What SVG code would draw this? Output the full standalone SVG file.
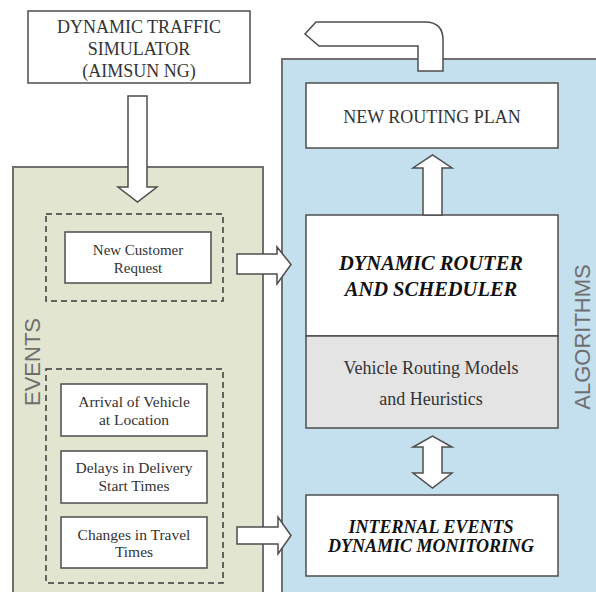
<svg xmlns="http://www.w3.org/2000/svg" width="596" height="592" viewBox="0 0 596 592">
<style>
.box{fill:#fff;stroke:#4d4d4d;stroke-width:1.5}
.arrow{fill:#fff;stroke:#4d4d4d;stroke-width:1.5;stroke-linejoin:miter}
.dash{fill:none;stroke:#3a3a3a;stroke-width:1.5;stroke-dasharray:6 4}
.t{fill:#333;text-anchor:middle}
.bi{fill:#111;text-anchor:middle;font-weight:bold;font-style:italic}
.lab{fill:#6e6e6e;text-anchor:middle;font-size:22px}
</style>
<rect width="596" height="592" fill="#fff"/>
<g id="events">
<rect x="13" y="167" width="250" height="440" fill="#e2e6d1" stroke="#6f6f6f" stroke-width="2"/>
<text class="lab" font-family="Liberation Sans, Arial, sans-serif" transform="translate(40,362) rotate(-90)">EVENTS</text>
</g>
<g id="algorithms">
<rect x="282" y="59" width="330" height="560" fill="#c4dfee" stroke="#6f6f6f" stroke-width="2"/>
<text class="lab" font-family="Liberation Sans, Arial, sans-serif" transform="translate(590,337) rotate(-90)">ALGORITHMS</text>
</g>
<g font-family="Liberation Serif, Times New Roman, Times, serif">
<g id="simulator">
<rect class="box" x="28" y="11" width="222" height="72"/>
<text class="t" font-size="18" x="139" y="33">DYNAMIC TRAFFIC</text>
<text class="t" font-size="18" x="139" y="55">SIMULATOR</text>
<text class="t" font-size="18" x="139" y="77">(AIMSUN NG)</text>
</g>
<g id="group-new-request">
<rect class="dash" x="46" y="214" width="177" height="87"/>
</g>
<g id="new-customer-request">
<rect class="box" x="65" y="232" width="146" height="51"/>
<text class="t" font-size="15" x="138" y="255">New Customer</text>
<text class="t" font-size="15" x="138" y="273">Request</text>
</g>
<g id="group-internal">
<rect class="dash" x="46" y="369" width="177" height="214"/>
</g>
<g id="arrival">
<rect class="box" x="61" y="384" width="146" height="52"/>
<text class="t" font-size="15.5" x="134" y="407">Arrival of Vehicle</text>
<text class="t" font-size="15.5" x="134" y="425">at Location</text>
</g>
<g id="delays">
<rect class="box" x="61" y="451" width="146" height="52"/>
<text class="t" font-size="15.5" x="134" y="473">Delays in Delivery</text>
<text class="t" font-size="15.5" x="134" y="491">Start Times</text>
</g>
<g id="changes">
<rect class="box" x="61" y="517" width="146" height="51"/>
<text class="t" font-size="15.5" x="134" y="540">Changes in Travel</text>
<text class="t" font-size="15.5" x="134" y="557">Times</text>
</g>
<g id="new-routing-plan">
<rect class="box" x="306" y="83" width="252" height="65"/>
<text class="t" font-size="18" x="432" y="123">NEW ROUTING PLAN</text>
</g>
<g id="router">
<rect class="box" x="306" y="215" width="252" height="121"/>
<rect x="306" y="336" width="252" height="92" fill="#e4e4e4" stroke="#4d4d4d" stroke-width="1.5"/>
<text class="bi" font-size="20.5" x="431" y="270">DYNAMIC ROUTER</text>
<text class="bi" font-size="20.5" x="431" y="296">AND SCHEDULER</text>
<text class="t" font-size="18" x="431" y="374">Vehicle  Routing Models</text>
<text class="t" font-size="18" x="431" y="405">and Heuristics</text>
</g>
<g id="internal-monitoring">
<rect class="box" x="306" y="495" width="252" height="81"/>
<text class="bi" font-size="18" x="431" y="533">INTERNAL EVENTS</text>
<text class="bi" font-size="18" x="431" y="552">DYNAMIC MONITORING</text>
</g>
</g>
<g id="connectors">
<path class="arrow" d="M128,96 H147 V187 H157 L137.5,202 L118,187 H128 Z"/>
<path class="arrow" d="M237,254 H277 V247 L291,264.5 L277,284 V274 H237 Z"/>
<path class="arrow" d="M237,527 H278 V517 L291,535.5 L278,554 V544 H237 Z"/>
<path class="arrow" d="M423,215 V168 H413 L432.5,155 L452,168 H442 V215 Z"/>
<path class="arrow" d="M423,447 H413 L432.5,436 L452,447 H442 V473 H452 L432.5,488 L413,473 H423 Z"/>
<path class="arrow" d="M443,71 V40 Q443,22 425,22 H316 L305,34 L319,46 H418 V71 Z"/>
</g>
</svg>
